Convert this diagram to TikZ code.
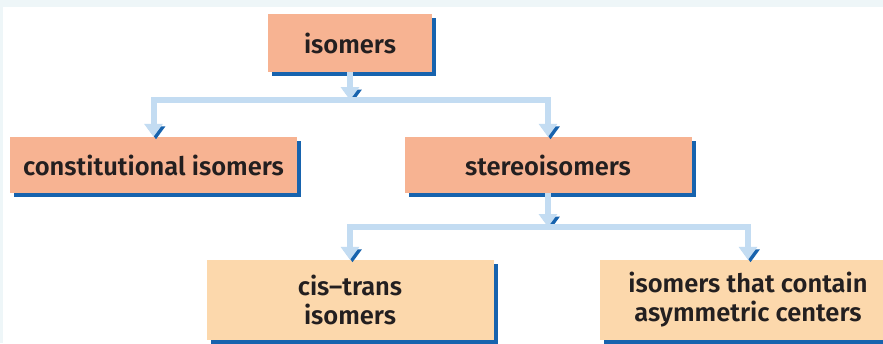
\documentclass[tikz,border=0pt]{standalone}
\usepackage{fontspec}
\setmainfont{Fira Sans}[BoldFont={Fira Sans SemiBold}]
\usetikzlibrary{arrows.meta,shadows}
\definecolor{boxsalmon}{HTML}{F7B392}
\definecolor{boxpeach}{HTML}{FCD8AC}
\definecolor{shadowblue}{HTML}{1763AE}
\definecolor{linkblue}{HTML}{C3DCF2}
\definecolor{framebg}{HTML}{EEF6F8}
\definecolor{textdark}{HTML}{231F20}

\begin{document}
\begin{tikzpicture}[
    x=1pt, y=-1pt,
    every node/.style = {
      font=\fontsize{25.5}{29}\selectfont\bfseries,
      text=textdark,
      align=center,
      inner sep=0pt
    },
    box/.style = {
      shape=rectangle,
      fill=boxsalmon,
      minimum width=287pt,
      minimum height=56pt,
      drop shadow={shadow xshift=4pt, shadow yshift=-4pt,
                   fill=shadowblue, opacity=1}
    },
    link/.style = {
      draw=linkblue,
      line width=6pt,
      -{Triangle[width=18pt,length=13pt]},
      preaction={draw=shadowblue,
                 transform canvas={shift={(2.5pt,-2.5pt)}}}
    }
  ]

    % frame
    \fill[framebg] (0,0) rectangle (883,343);
    \fill[white] (3,7) rectangle (883,343);
    \useasboundingbox (0,0) rectangle (883,343);

    % Top node
    \node[box, minimum width=164pt, minimum height=58pt] (isomers) at (350, 43) {isomers};

    % Second row
    \node[box] (constit) at (153.5, 165) {constitutional isomers};
    \node[box] (stereo)  at (548, 165) {stereoisomers};

    % Third row, cut by the page edge
    \node[box, fill=boxpeach, minimum height=80pt] (cistrans) at (350, 300) {cis–trans\\isomers};
    \node[box, fill=boxpeach, minimum height=80pt, minimum width=296pt] (asym) at (748, 300)
      {isomers that contain\\asymmetric centers};

    % Forks
    \coordinate (fork1) at (350, 100);
    \coordinate (fork2) at (548, 227);

    % Arrows
    \draw[link] (isomers.south) -- (fork1);
    \draw[link] (fork1) -| (constit.north);
    \draw[link] (fork1) -| (stereo.north);
    \draw[link] (stereo.south) -- (fork2);
    \draw[link] (fork2) -| (cistrans.north);
    \draw[link] (fork2) -| (asym.north);

  \end{tikzpicture}
\end{document}
